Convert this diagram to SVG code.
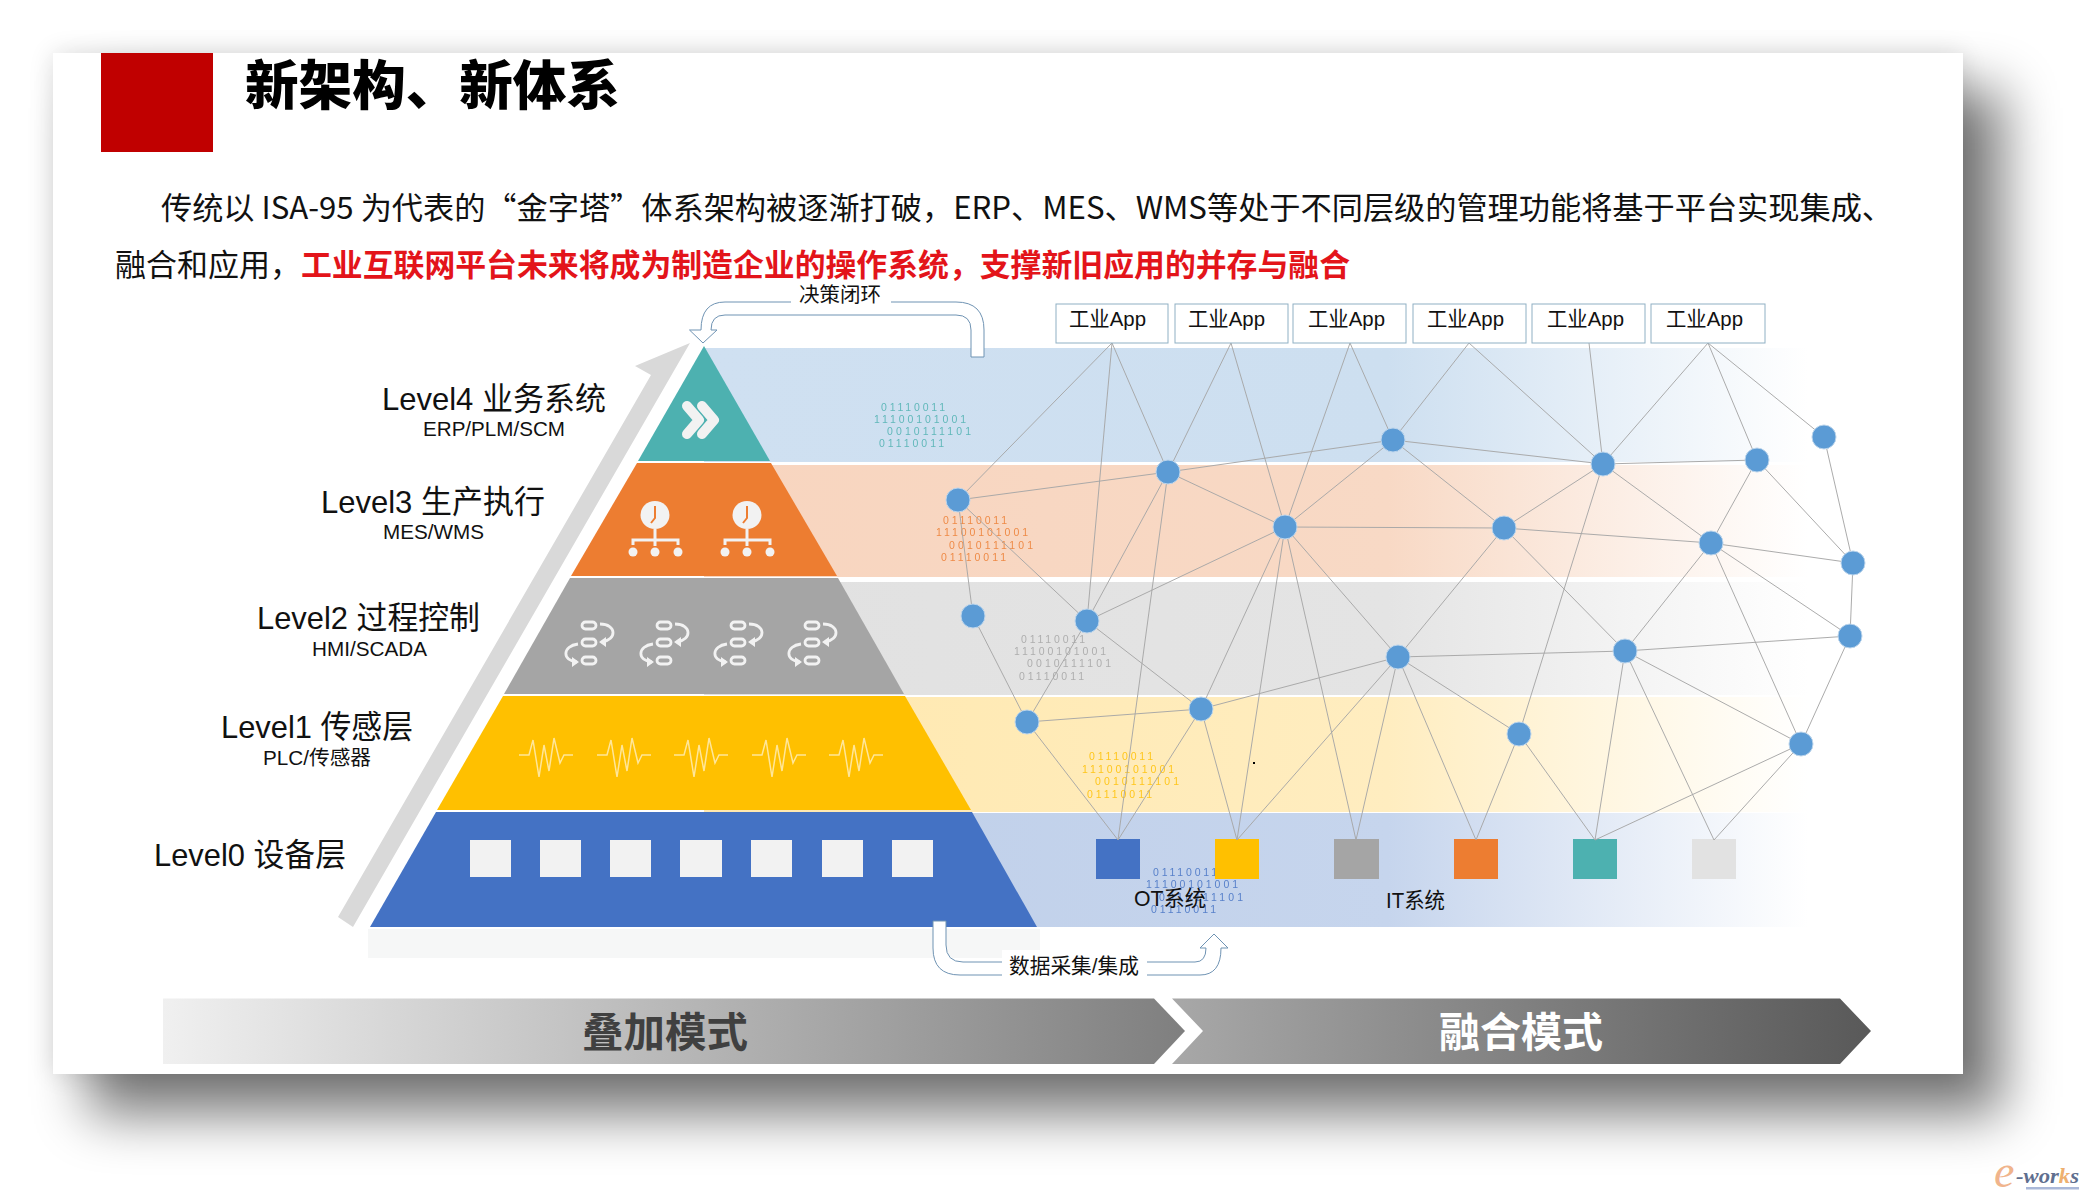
<svg xmlns="http://www.w3.org/2000/svg" xmlns:xlink="http://www.w3.org/1999/xlink" width="2090" height="1200" viewBox="0 0 2090 1200">
<style>
text{font-family:"Liberation Sans","Noto Sans CJK SC",sans-serif;fill:#111}
.cj{font-family:"Noto Sans CJK SC","Liberation Sans",sans-serif}
.lv{font-size:32px}.sb{font-size:20px}
.app{fill:#fff;stroke:#8fb0c4;stroke-width:1}
.apt{font-size:21px}
.nd{fill:#5B9BD5;stroke:#bcd5ec;stroke-width:1}
#connectors line{stroke:#a6a6a6;stroke-width:.95}
.ar{fill:#fff;stroke:#6f93b3;stroke-width:1}
.bin{font-size:10.5px;opacity:.85}
.ic{fill:none;stroke:#f2f2f2;stroke-linecap:round;stroke-linejoin:round}
.sq{fill:#f2f2f2}
</style>
<defs>
<filter id="bs" x="-10%" y="-15%" width="120%" height="130%"><feGaussianBlur stdDeviation="27"/></filter>
<filter id="gs" x="-10%" y="-15%" width="120%" height="130%"><feGaussianBlur stdDeviation="13"/></filter>
<linearGradient id="b1"><stop offset="0" stop-color="#cfe0f1"/><stop offset=".62" stop-color="#cddff0"/><stop offset="1" stop-color="#cddff0" stop-opacity="0"/></linearGradient>
<linearGradient id="b2"><stop offset="0" stop-color="#f8d5bf"/><stop offset=".62" stop-color="#f8d9c5"/><stop offset="1" stop-color="#f8d9c5" stop-opacity="0"/></linearGradient>
<linearGradient id="b3"><stop offset="0" stop-color="#e1e1e1"/><stop offset=".62" stop-color="#e4e4e4"/><stop offset="1" stop-color="#e4e4e4" stop-opacity="0"/></linearGradient>
<linearGradient id="b4"><stop offset="0" stop-color="#ffe8ae"/><stop offset=".62" stop-color="#ffedc0"/><stop offset="1" stop-color="#ffedc0" stop-opacity="0"/></linearGradient>
<linearGradient id="b5"><stop offset="0" stop-color="#bfcfe9"/><stop offset=".62" stop-color="#c6d5ed"/><stop offset="1" stop-color="#c6d5ed" stop-opacity="0"/></linearGradient>
<linearGradient id="g1"><stop offset="0" stop-color="#f0f0f0"/><stop offset="1" stop-color="#7f7f7f"/></linearGradient>
<linearGradient id="g2"><stop offset="0" stop-color="#a8a8a8"/><stop offset="1" stop-color="#595959"/></linearGradient>
<g id="clock"><ellipse cx="0" cy="0" rx="14.5" ry="14" fill="#f2f2f2"/><path d="M0,-9V3L-4,8" fill="none" stroke="#ed7d31" stroke-width="2"/><path d="M0,14V31M-22,30V25H23V30" fill="none" stroke="#f2f2f2" stroke-width="3"/><circle cx="-22" cy="37" r="4.5" fill="#f2f2f2"/><circle cx="0" cy="37" r="4.5" fill="#f2f2f2"/><circle cx="23" cy="37" r="4.5" fill="#f2f2f2"/></g>
<g id="flow"><g fill="none" stroke="#f2f2f2" stroke-width="2.8"><rect x="-7" y="-21" width="14" height="7" rx="3.5"/><rect x="-7" y="-4" width="14" height="7" rx="3.5"/><rect x="-7" y="14" width="14" height="7" rx="3.5"/><path d="M11,-19C28,-19 28,-3 13,-1"/><path d="M-11,1C-27,3 -27,18 -12,19"/></g><path d="M10,-1L17,-6V4Z M-10,19L-17,14V24Z" fill="#f2f2f2"/></g>
<path id="beat" d="M-27,0H-17L-13,-15L-7,22L-2,-10L3,16L8,-17L14,8L18,0H27" fill="none" stroke="#ffe699" stroke-width="1.5"/>
</defs>

<rect x="88" y="90" width="1915" height="1025" fill="#000" opacity=".52" filter="url(#bs)"/>
<rect x="53" y="53" width="1910" height="1021" fill="#000" opacity=".13" filter="url(#gs)"/>
<rect x="53" y="53" width="1910" height="1021" fill="#fff"/>

<rect x="101" y="53" width="112" height="99" fill="#C00000"/>
<text class="cj" x="245" y="105" font-size="53" font-weight="900" textLength="375" lengthAdjust="spacingAndGlyphs" style="fill:#000">新架构、新体系</text>
<text class="cj" x="161" y="219" font-size="31" textLength="1732" lengthAdjust="spacingAndGlyphs">传统以 ISA-95 为代表的“金字塔”体系架构被逐渐打破，ERP、MES、WMS等处于不同层级的管理功能将基于平台实现集成、</text>
<text class="cj" x="115" y="276" font-size="31" textLength="186" lengthAdjust="spacingAndGlyphs">融合和应用，</text>
<text class="cj" x="301" y="276" font-size="31" font-weight="700" textLength="1049" lengthAdjust="spacingAndGlyphs" style="fill:#e3141a">工业互联网平台未来将成为制造企业的操作系统，支撑新旧应用的并存与融合</text>

<g id="bands">
<rect x="704" y="348" width="1104" height="114" fill="url(#b1)"/>
<rect x="704" y="465" width="1104" height="112" fill="url(#b2)"/>
<rect x="704" y="582" width="1104" height="113" fill="url(#b3)"/>
<rect x="704" y="697" width="1104" height="115" fill="url(#b4)"/>
<rect x="704" y="813" width="1104" height="114" fill="url(#b5)"/>
</g>
<g id="binary">
<g>
<text class="bin" x="881" y="411" textLength="64" style="fill:#4db1b0">01110011</text><text class="bin" x="874" y="423" textLength="92" style="fill:#4db1b0">11100101001</text><text class="bin" x="887" y="435" textLength="84" style="fill:#4db1b0">0010111101</text><text class="bin" x="879" y="447" textLength="65" style="fill:#4db1b0">01110011</text>
</g>
<g>
<text class="bin" x="943" y="524" textLength="64" style="fill:#ed7d31">01110011</text><text class="bin" x="936" y="536" textLength="92" style="fill:#ed7d31">11100101001</text><text class="bin" x="949" y="549" textLength="84" style="fill:#ed7d31">0010111101</text><text class="bin" x="941" y="561" textLength="65" style="fill:#ed7d31">01110011</text>
</g>
<g>
<text class="bin" x="1021" y="643" textLength="64" style="fill:#a5a5a5">01110011</text><text class="bin" x="1014" y="655" textLength="92" style="fill:#a5a5a5">11100101001</text><text class="bin" x="1027" y="667" textLength="84" style="fill:#a5a5a5">0010111101</text><text class="bin" x="1019" y="680" textLength="65" style="fill:#a5a5a5">01110011</text>
</g>
<g>
<text class="bin" x="1089" y="760" textLength="64" style="fill:#ffc000">01110011</text><text class="bin" x="1082" y="773" textLength="92" style="fill:#ffc000">11100101001</text><text class="bin" x="1095" y="785" textLength="84" style="fill:#ffc000">0010111101</text><text class="bin" x="1087" y="798" textLength="65" style="fill:#ffc000">01110011</text>
</g>
<g>
<text class="bin" x="1153" y="876" textLength="64" style="fill:#4472c4">01110011</text><text class="bin" x="1146" y="888" textLength="92" style="fill:#4472c4">11100101001</text><text class="bin" x="1159" y="901" textLength="84" style="fill:#4472c4">0010111101</text><text class="bin" x="1151" y="913" textLength="65" style="fill:#4472c4">01110011</text>
</g>
</g>

<rect x="368" y="929" width="672" height="29" fill="#f6f7f7"/>
<polygon id="rise-arrow" points="690,343 635,366 651,375 338,917 353,927" fill="#d9d9d9"/>

<g id="pyramid-l4"><polygon points="704,346 770,461 638,461" fill="#4DB1B0"/><path class="ic" stroke-width="10" d="M687,406L699,420L687,434M702,406L714,420L702,434"/></g>
<g id="pyramid-l3"><polygon points="637,463 771,463 837,576 571,576" fill="#ED7D31"/><use xlink:href="#clock" href="#clock" x="655" y="515"/><use xlink:href="#clock" href="#clock" x="747" y="515"/></g>
<g id="pyramid-l2"><polygon points="570,578 838,578 904,694 504,694" fill="#A5A5A5"/><use xlink:href="#flow" href="#flow" x="589" y="643"/><use xlink:href="#flow" href="#flow" x="664" y="643"/><use xlink:href="#flow" href="#flow" x="738" y="643"/><use xlink:href="#flow" href="#flow" x="812" y="643"/></g>
<g id="pyramid-l1"><polygon points="503,696 905,696 971,810 437,810" fill="#FFC000"/><use xlink:href="#beat" href="#beat" x="546" y="755"/><use xlink:href="#beat" href="#beat" x="624" y="755"/><use xlink:href="#beat" href="#beat" x="701" y="755"/><use xlink:href="#beat" href="#beat" x="779" y="755"/><use xlink:href="#beat" href="#beat" x="856" y="755"/></g>
<g id="pyramid-l0"><polygon points="436,812 972,812 1037,927 370,927" fill="#4472C4"/><rect class="sq" x="470" y="840" width="41" height="37"/><rect class="sq" x="540" y="840" width="41" height="37"/><rect class="sq" x="610" y="840" width="41" height="37"/><rect class="sq" x="680" y="840" width="42" height="37"/><rect class="sq" x="751" y="840" width="41" height="37"/><rect class="sq" x="822" y="840" width="41" height="37"/><rect class="sq" x="892" y="840" width="41" height="37"/></g>

<g id="labels">
<text class="lv" x="382" y="410" textLength="224" lengthAdjust="spacingAndGlyphs">Level4 业务系统</text><text class="sb" x="423" y="436" textLength="142" lengthAdjust="spacingAndGlyphs">ERP/PLM/SCM</text>
<text class="lv" x="321" y="513" textLength="224" lengthAdjust="spacingAndGlyphs">Level3 生产执行</text><text class="sb" x="383" y="539" textLength="101" lengthAdjust="spacingAndGlyphs">MES/WMS</text>
<text class="lv" x="257" y="629" textLength="223" lengthAdjust="spacingAndGlyphs">Level2 过程控制</text><text class="sb" x="312" y="656" textLength="115" lengthAdjust="spacingAndGlyphs">HMI/SCADA</text>
<text class="lv" x="221" y="738" textLength="192" lengthAdjust="spacingAndGlyphs">Level1 传感层</text><text class="sb" x="263" y="765" textLength="108" lengthAdjust="spacingAndGlyphs">PLC/传感器</text>
<text class="lv" x="154" y="866" textLength="192" lengthAdjust="spacingAndGlyphs">Level0 设备层</text>
</g>

<g id="loop-arrow"><path class="ar" d="M984,357H971V330Q971,315 956,315H725Q711,315 711,330H717L703,343L689.5,330H701Q701,302 725,302H956Q984,302 984,330Z"/><rect x="791" y="285" width="100" height="24" fill="#fff"/><text x="799" y="302" font-size="20.5" textLength="82" lengthAdjust="spacingAndGlyphs">决策闭环</text></g>
<g id="collect-arrow"><path class="ar" d="M933,921H946V945Q946,962 963,962H1195Q1206,962 1206,948H1200L1214,934L1228,948H1221Q1221,975 1200,975H960Q933,975 933,948Z"/><rect x="1002" y="950" width="145" height="30" fill="#fff"/><text x="1009" y="973" font-size="21" textLength="130" lengthAdjust="spacingAndGlyphs">数据采集/集成</text></g>

<g id="systems">
<rect x="1096" y="839" width="44" height="40" fill="#4472C4"/><rect x="1215" y="839" width="44" height="40" fill="#FFC000"/><rect x="1334" y="839" width="45" height="40" fill="#A5A5A5"/><rect x="1454" y="839" width="44" height="40" fill="#ED7D31"/><rect x="1573" y="839" width="44" height="40" fill="#4DB1B0"/><rect x="1692" y="839" width="44" height="40" fill="#E2E2E2"/>
<text x="1134" y="906" font-size="22" textLength="72" lengthAdjust="spacingAndGlyphs">OT系统</text><text x="1386" y="908" font-size="22" textLength="59" lengthAdjust="spacingAndGlyphs">IT系统</text>
<rect x="1253" y="762" width="2" height="2" fill="#000"/>
</g>

<g id="connectors">
<line x1="1112" y1="343" x2="958" y2="500"/><line x1="1112" y1="343" x2="1087" y2="621"/><line x1="1112" y1="343" x2="1168" y2="472"/>
<line x1="1231" y1="343" x2="1168" y2="472"/><line x1="1231" y1="343" x2="1285" y2="527"/>
<line x1="1350" y1="343" x2="1285" y2="527"/><line x1="1350" y1="343" x2="1393" y2="440"/>
<line x1="1469" y1="343" x2="1393" y2="440"/><line x1="1469" y1="343" x2="1603" y2="464"/>
<line x1="1589" y1="343" x2="1603" y2="464"/>
<line x1="1708" y1="343" x2="1603" y2="464"/><line x1="1708" y1="343" x2="1757" y2="460"/><line x1="1708" y1="343" x2="1824" y2="437"/>
<line x1="958" y1="500" x2="1168" y2="472"/><line x1="958" y1="500" x2="973" y2="616"/><line x1="958" y1="500" x2="1087" y2="621"/>
<line x1="1168" y1="472" x2="1393" y2="440"/><line x1="1168" y1="472" x2="1285" y2="527"/><line x1="1168" y1="472" x2="1087" y2="621"/><line x1="1168" y1="472" x2="1118" y2="840"/>
<line x1="1393" y1="440" x2="1603" y2="464"/><line x1="1393" y1="440" x2="1285" y2="527"/><line x1="1393" y1="440" x2="1504" y2="528"/>
<line x1="1603" y1="464" x2="1757" y2="460"/><line x1="1603" y1="464" x2="1504" y2="528"/><line x1="1603" y1="464" x2="1711" y2="543"/><line x1="1603" y1="464" x2="1519" y2="734"/>
<line x1="1757" y1="460" x2="1711" y2="543"/><line x1="1757" y1="460" x2="1853" y2="563"/><line x1="1824" y1="437" x2="1853" y2="563"/>
<line x1="1285" y1="527" x2="1504" y2="528"/><line x1="1285" y1="527" x2="1087" y2="621"/><line x1="1285" y1="527" x2="1398" y2="657"/><line x1="1285" y1="527" x2="1201" y2="709"/><line x1="1285" y1="527" x2="1237" y2="840"/><line x1="1285" y1="527" x2="1356" y2="840"/>
<line x1="1504" y1="528" x2="1711" y2="543"/><line x1="1504" y1="528" x2="1398" y2="657"/><line x1="1504" y1="528" x2="1625" y2="651"/>
<line x1="1711" y1="543" x2="1853" y2="563"/><line x1="1711" y1="543" x2="1625" y2="651"/><line x1="1711" y1="543" x2="1850" y2="636"/><line x1="1711" y1="543" x2="1801" y2="744"/>
<line x1="1853" y1="563" x2="1850" y2="636"/><line x1="1850" y1="636" x2="1625" y2="651"/><line x1="1850" y1="636" x2="1801" y2="744"/>
<line x1="1087" y1="621" x2="1027" y2="722"/><line x1="1087" y1="621" x2="1201" y2="709"/><line x1="973" y1="616" x2="1027" y2="722"/>
<line x1="1398" y1="657" x2="1625" y2="651"/><line x1="1398" y1="657" x2="1201" y2="709"/><line x1="1398" y1="657" x2="1237" y2="840"/><line x1="1398" y1="657" x2="1356" y2="840"/><line x1="1398" y1="657" x2="1476" y2="840"/><line x1="1398" y1="657" x2="1519" y2="734"/>
<line x1="1625" y1="651" x2="1595" y2="840"/><line x1="1625" y1="651" x2="1714" y2="840"/><line x1="1625" y1="651" x2="1801" y2="744"/>
<line x1="1027" y1="722" x2="1201" y2="709"/><line x1="1027" y1="722" x2="1118" y2="840"/><line x1="1201" y1="709" x2="1118" y2="840"/><line x1="1201" y1="709" x2="1237" y2="840"/>
<line x1="1519" y1="734" x2="1476" y2="840"/><line x1="1519" y1="734" x2="1595" y2="840"/>
<line x1="1801" y1="744" x2="1595" y2="840"/><line x1="1801" y1="744" x2="1714" y2="840"/>
</g>

<g id="app1"><rect class="app" x="1056" y="304" width="112" height="39"/><text class="apt" x="1069" y="326" textLength="77" lengthAdjust="spacingAndGlyphs">工业App</text></g>
<g id="app2"><rect class="app" x="1175" y="304" width="113" height="39"/><text class="apt" x="1188" y="326" textLength="77" lengthAdjust="spacingAndGlyphs">工业App</text></g>
<g id="app3"><rect class="app" x="1293" y="304" width="113" height="39"/><text class="apt" x="1308" y="326" textLength="77" lengthAdjust="spacingAndGlyphs">工业App</text></g>
<g id="app4"><rect class="app" x="1413" y="304" width="113" height="39"/><text class="apt" x="1427" y="326" textLength="77" lengthAdjust="spacingAndGlyphs">工业App</text></g>
<g id="app5"><rect class="app" x="1532" y="304" width="113" height="39"/><text class="apt" x="1547" y="326" textLength="77" lengthAdjust="spacingAndGlyphs">工业App</text></g>
<g id="app6"><rect class="app" x="1651" y="304" width="114" height="39"/><text class="apt" x="1666" y="326" textLength="77" lengthAdjust="spacingAndGlyphs">工业App</text></g>

<g id="node-n"><circle class="nd" cx="958" cy="500" r="12"/></g>
<g id="node-o"><circle class="nd" cx="973" cy="616" r="12"/></g>
<g id="node-a"><circle class="nd" cx="1168" cy="472" r="12"/></g>
<g id="node-b"><circle class="nd" cx="1393" cy="440" r="12"/></g>
<g id="node-c"><circle class="nd" cx="1603" cy="464" r="12"/></g>
<g id="node-d"><circle class="nd" cx="1757" cy="460" r="12"/></g>
<g id="node-e"><circle class="nd" cx="1824" cy="437" r="12"/></g>
<g id="node-f"><circle class="nd" cx="1285" cy="527" r="12"/></g>
<g id="node-g"><circle class="nd" cx="1504" cy="528" r="12"/></g>
<g id="node-h"><circle class="nd" cx="1711" cy="543" r="12"/></g>
<g id="node-i"><circle class="nd" cx="1853" cy="563" r="12"/></g>
<g id="node-j"><circle class="nd" cx="1087" cy="621" r="12"/></g>
<g id="node-k"><circle class="nd" cx="1398" cy="657" r="12"/></g>
<g id="node-l"><circle class="nd" cx="1625" cy="651" r="12"/></g>
<g id="node-m"><circle class="nd" cx="1850" cy="636" r="12"/></g>
<g id="node-p"><circle class="nd" cx="1027" cy="722" r="12"/></g>
<g id="node-q"><circle class="nd" cx="1201" cy="709" r="12"/></g>
<g id="node-r"><circle class="nd" cx="1519" cy="734" r="12"/></g>
<g id="node-s"><circle class="nd" cx="1801" cy="744" r="12"/></g>

<g id="modes">
<polygon points="163,998.5 1154,998.5 1185,1031 1154,1064 163,1064" fill="url(#g1)"/>
<polygon points="1172,998.5 1840,998.5 1871,1031 1840,1064 1172,1064 1203,1031" fill="url(#g2)"/>
<text class="cj" x="582" y="1047" font-size="41" font-weight="700" textLength="166" lengthAdjust="spacingAndGlyphs" style="fill:#404040">叠加模式</text>
<text class="cj" x="1439" y="1047" font-size="41" font-weight="700" textLength="164" lengthAdjust="spacingAndGlyphs" style="fill:#fff">融合模式</text>
</g>

<g id="logo"><text x="1994" y="1187" font-size="46" font-style="italic" style="font-family:'Liberation Serif',serif;fill:#f0b48c">e</text><text x="2016" y="1183" font-size="21" font-style="italic" font-weight="700" textLength="63" lengthAdjust="spacingAndGlyphs" style="font-family:'Liberation Serif',serif;fill:#5f6f8f">-wor<tspan style="fill:#eeb070">k</tspan>s</text><rect x="2026" y="1187" width="53" height="2.5" fill="#aab8d8"/></g>
</svg>
